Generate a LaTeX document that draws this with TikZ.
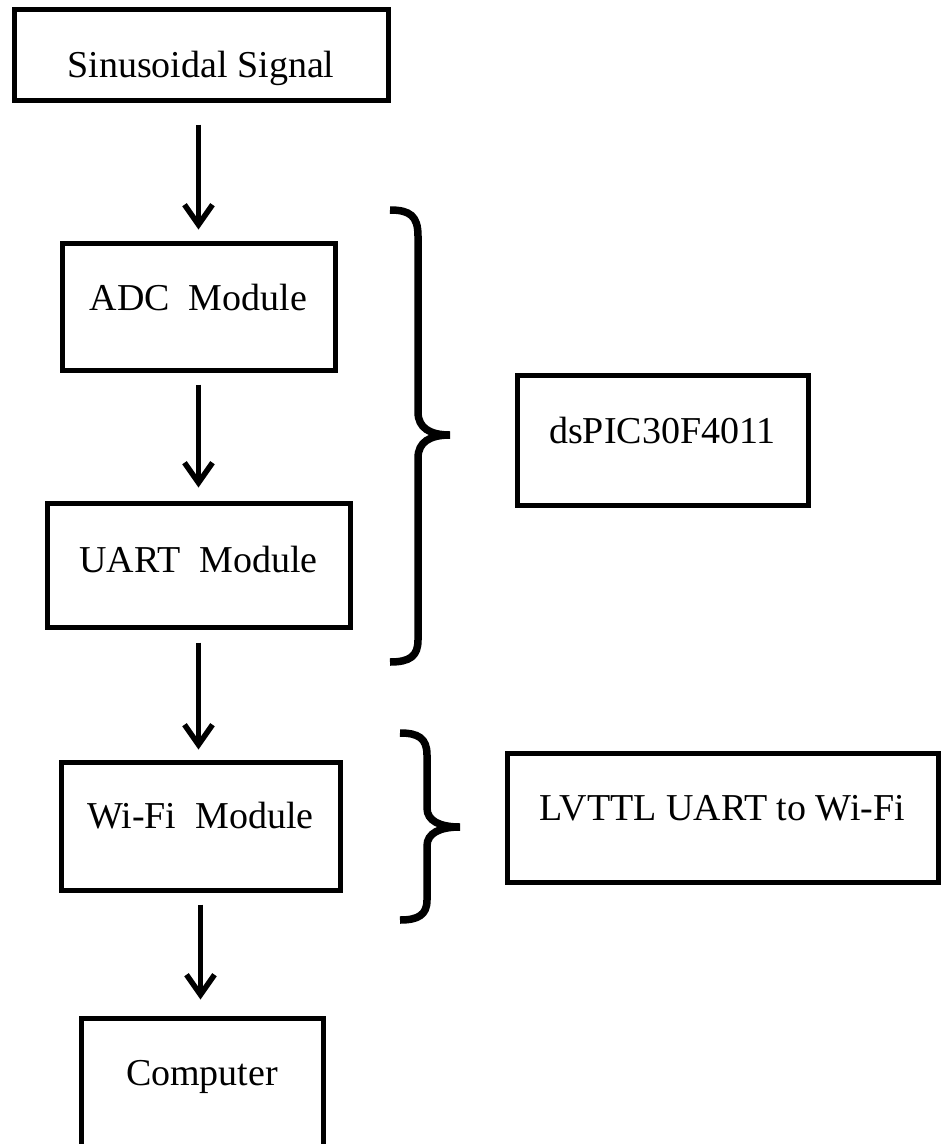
\documentclass[tikz,border=0pt]{standalone}
\usepackage{fontspec}
\setmainfont{Liberation Serif}
\usetikzlibrary{arrows.meta}
\begin{document}
\begin{tikzpicture}[x=1pt,y=1pt,
  blockbox/.style={draw, line width=5pt, inner sep=0pt, font=\fontsize{38}{40}\selectfont},
  arr/.style={line width=5.5pt, -{Straight Barb[length=20pt,width=28pt]}},
  bracepath/.style={line width=7.5pt}]
\useasboundingbox (0,0) rectangle (941,-1144);
\node[blockbox, minimum width=374pt, text height=68pt, text depth=23pt] (sin) at (201,-54.5) {Sinusoidal Signal};
\node[blockbox, minimum width=273pt, text height=67pt, text depth=60pt] (adc) at (198.5,-306.5) {ADC\ \ Module};
\node[blockbox, minimum width=303pt, text height=69pt, text depth=55pt] (uart) at (198.5,-565) {UART\ \ Module};
\node[blockbox, minimum width=279pt, text height=66pt, text depth=62pt] (wifi) at (200.5,-826) {Wi-Fi\ \ Module};
\node[blockbox, minimum width=242pt, text height=67pt, text depth=95pt] (comp) at (202,-1099) {Computer};
\node[blockbox, minimum width=291pt, text height=68pt, text depth=62pt] (ds) at (662.5,-440) {dsPIC30F4011};
\node[blockbox, minimum width=431pt, text height=67pt, text depth=62pt] (lv) at (722.5,-817.5) {LVTTL UART to Wi-Fi};
\draw[arr, shorten <=22pt, shorten >=11pt] (sin.south -| adc.north) -- (adc.north);
\draw[arr, shorten <=12pt, shorten >=13pt] (adc.south) -- (adc.south |- uart.north);
\draw[arr, shorten <=13pt, shorten >=10pt] (uart.south) -- (uart.south |- wifi.north);
\draw[arr, shorten <=12pt, shorten >=16pt] (wifi.south) -- (wifi.south |- comp.north);
\draw[bracepath] (390,-210) .. controls (410,-210) and (418,-216) .. (418,-236) -- (418,-412)
  .. controls (418,-428) and (430,-435) .. (450,-435)
  .. controls (430,-435) and (418,-442) .. (418,-458) -- (418,-640)
  .. controls (418,-656) and (410,-662) .. (390,-662);
\draw[bracepath] (400,-733) .. controls (418,-733) and (427,-738) .. (427,-755) -- (427,-808)
  .. controls (427,-821) and (440,-827) .. (460,-827)
  .. controls (440,-827) and (427,-833) .. (427,-846) -- (427,-900)
  .. controls (427,-915) and (418,-920) .. (400,-920);
\end{tikzpicture}
\end{document}
